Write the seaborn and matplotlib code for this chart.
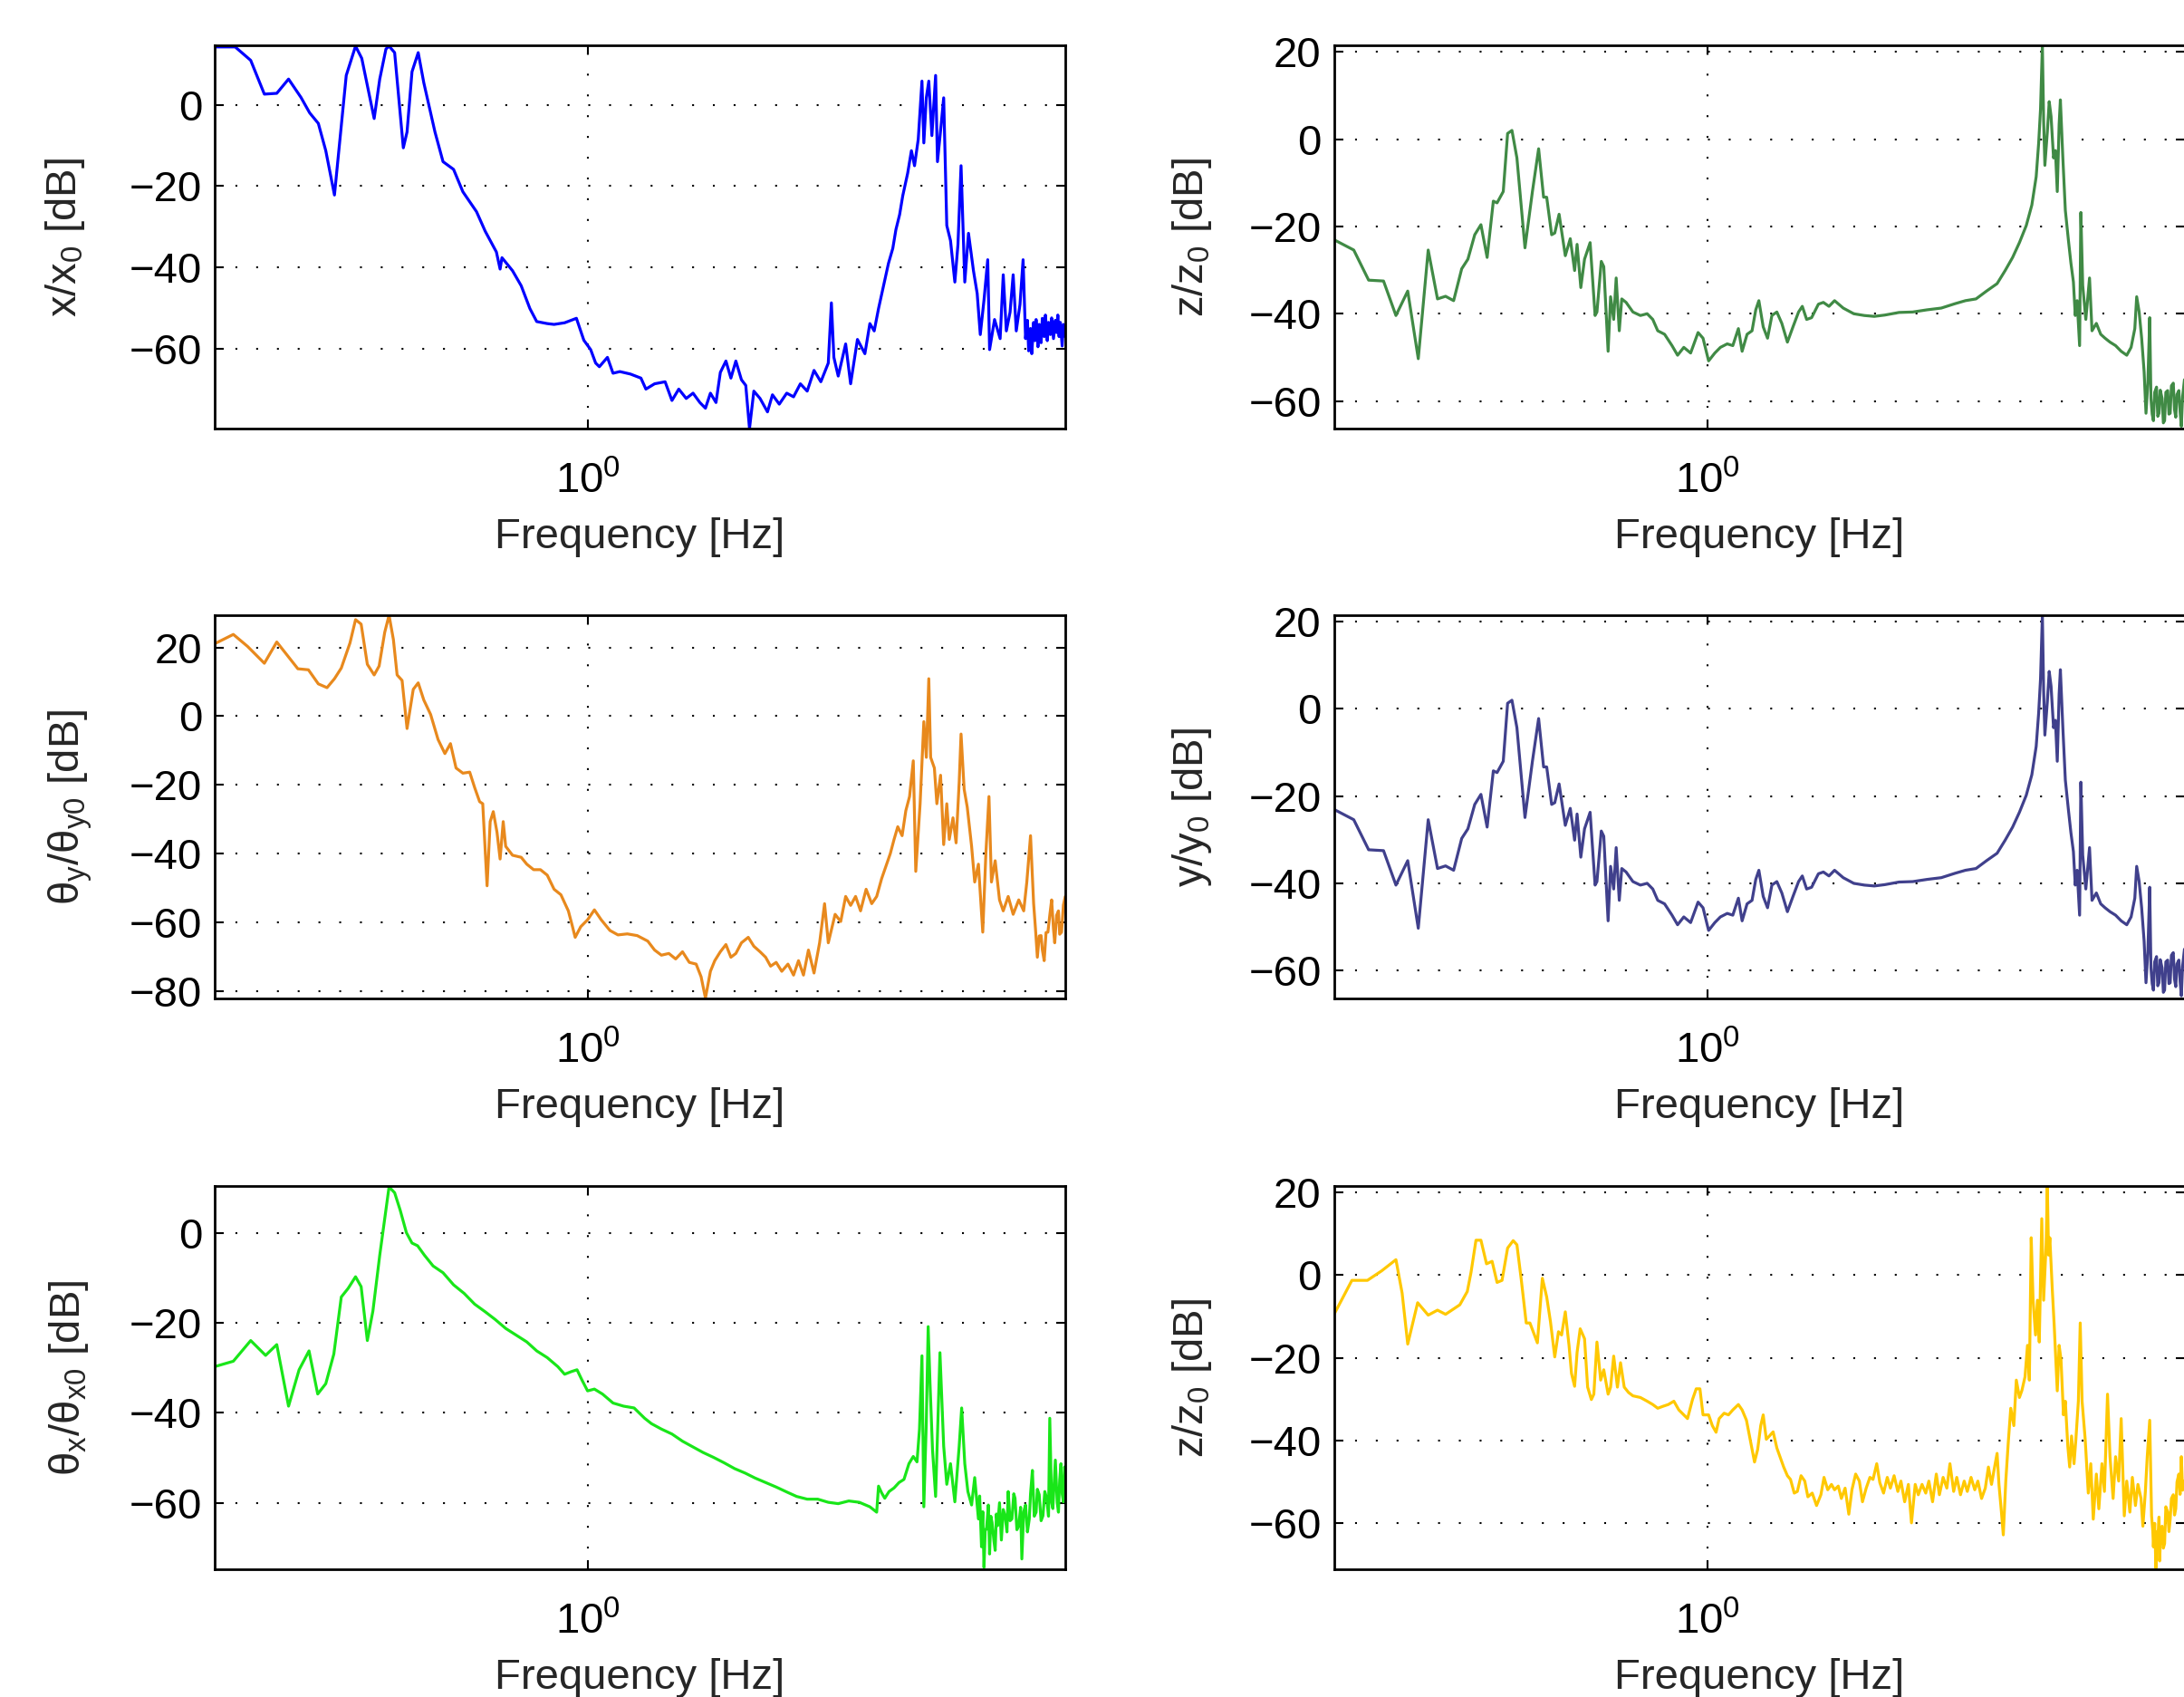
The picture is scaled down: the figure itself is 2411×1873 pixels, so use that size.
import numpy as np
import matplotlib
matplotlib.use("Agg")
import matplotlib.pyplot as plt
import seaborn as sns
from matplotlib.ticker import FixedLocator, NullLocator, MultipleLocator, LogFormatterSciNotation

# frequency axis values are stored as log10(f [Hz]), magnitudes in dB

# x/x0
x_logf = [-0.602, -0.569, -0.544, -0.522, -0.502, -0.483, -0.463, -0.449, -0.435, -0.423,
          -0.409, -0.390, -0.375, -0.365, -0.345, -0.336, -0.326, -0.321, -0.312, -0.298,
          -0.292, -0.284, -0.274, -0.265, -0.247, -0.234, -0.217, -0.202, -0.180, -0.166,
          -0.153, -0.148, -0.142, -0.139, -0.122, -0.108, -0.094, -0.083, -0.066, -0.055,
          -0.038, -0.019, -0.007, 0.004, 0.012, 0.018, 0.031, 0.040, 0.051, 0.068,
          0.085, 0.093, 0.107, 0.124, 0.135, 0.146, 0.158, 0.169, 0.180, 0.189,
          0.197, 0.206, 0.213, 0.222, 0.230, 0.238, 0.247, 0.254, 0.260, 0.267,
          0.277, 0.289, 0.297, 0.308, 0.320, 0.331, 0.342, 0.353, 0.364, 0.375,
          0.387, 0.392, 0.396, 0.403, 0.415, 0.423, 0.434, 0.446, 0.454, 0.461,
          0.468, 0.476, 0.484, 0.491, 0.496, 0.502, 0.507, 0.515, 0.521, 0.526,
          0.532, 0.538, 0.541, 0.545, 0.549, 0.554, 0.560, 0.563, 0.569, 0.573,
          0.578, 0.584, 0.591, 0.596, 0.601, 0.607, 0.613, 0.621, 0.627, 0.632,
          0.638, 0.644, 0.647, 0.655, 0.664, 0.669, 0.674, 0.680, 0.685, 0.690,
          0.696, 0.701,
          0.705, 0.708, 0.710, 0.713, 0.715, 0.718, 0.720, 0.722, 0.725, 0.727,
          0.730, 0.732, 0.735, 0.737, 0.740, 0.742, 0.745, 0.747, 0.750, 0.753,
          0.755, 0.757, 0.759, 0.761, 0.764, 0.766, 0.769]
x_db = [14.2, 14.2, 10.9, 2.6, 2.8, 6.3, 1.8, -2.0, -4.6, -11.3,
        -22.2, 7.2, 14.4, 11.4, -3.4, 6.3, 13.7, 14.4, 12.8, -10.6,
        -6.7, 8.1, 12.8, 5.4, -6.7, -14.0, -15.9, -21.4, -26.3, -31.1,
        -34.8, -36.2, -40.4, -37.6, -40.8, -44.5, -50.1, -53.3, -53.8, -54.0,
        -53.6, -52.5, -57.9, -60.2, -63.5, -64.4, -62.1, -66.0, -65.6, -66.2,
        -67.2, -69.9, -68.6, -68.1, -72.7, -69.9, -72.2, -70.9, -73.2, -74.6,
        -70.9, -73.2, -65.8, -63.0, -67.2, -63.0, -67.6, -69.0, -79.6, -70.4,
        -72.2, -75.5, -71.3, -73.6, -70.9, -71.8, -68.6, -70.4, -65.3, -68.1,
        -63.5, -48.7, -62.1, -66.7, -58.8, -68.6, -57.7, -61.2, -53.8, -55.6,
        -50.1, -44.5, -39.0, -35.3, -30.7, -27.0, -22.4, -16.8, -11.3, -15.0,
        -8.5, 5.8, -9.4, 1.7, 5.8, -7.6, 7.2, -14.0, -4.8, 1.7,
        -29.7, -33.4, -43.6, -34.4, -15.0, -43.6, -31.6, -40.8, -46.4, -56.5,
        -48.0, -38.1, -60.2, -52.8, -57.5, -41.8, -55.6, -51.0, -41.8, -55.6,
        -49.1, -38.1,
        -57.5, -53.0, -60.5, -55.0, -61.2, -53.5, -58.0, -52.8, -59.5, -54.0,
        -58.5, -52.5, -57.0, -51.7, -58.0, -53.5, -56.5, -52.4, -57.5, -53.0,
        -56.0, -51.7, -57.0, -53.5, -59.3, -54.0, -57.0]

# theta_y/theta_y0
ty_logf = [-0.602, -0.572, -0.549, -0.522, -0.502, -0.485, -0.468, -0.451, -0.435, -0.421,
           -0.409, -0.398, -0.384, -0.375, -0.366, -0.356, -0.345, -0.337, -0.328, -0.321,
           -0.314, -0.308, -0.300, -0.292, -0.282, -0.274, -0.265, -0.254, -0.242, -0.231,
           -0.222, -0.213, -0.202, -0.191, -0.183, -0.175, -0.170, -0.163, -0.158, -0.153,
           -0.147, -0.142, -0.137, -0.133, -0.122, -0.108, -0.099, -0.088, -0.077, -0.066,
           -0.055, -0.044, -0.032, -0.026, -0.021, -0.012, -0.001, 0.010, 0.021, 0.035,
           0.048, 0.063, 0.079, 0.096, 0.107, 0.118, 0.130, 0.141, 0.152, 0.163,
           0.174, 0.182, 0.189, 0.197, 0.204, 0.213, 0.222, 0.230, 0.238, 0.247,
           0.258, 0.267, 0.277, 0.286, 0.294, 0.303, 0.312, 0.322, 0.331, 0.339,
           0.347, 0.355, 0.364, 0.373, 0.381, 0.387, 0.398, 0.407, 0.415, 0.423,
           0.431, 0.439, 0.448, 0.457, 0.465, 0.473, 0.479, 0.487, 0.493, 0.499,
           0.506, 0.512, 0.518, 0.524, 0.528, 0.535, 0.541, 0.545, 0.549, 0.552,
           0.558, 0.562, 0.568, 0.573, 0.578, 0.582, 0.588, 0.593, 0.598, 0.601,
           0.606, 0.611, 0.618, 0.623, 0.629, 0.636, 0.641, 0.646, 0.650, 0.656,
           0.663, 0.669, 0.677, 0.685, 0.694, 0.702, 0.707, 0.713,
           0.718, 0.721, 0.724, 0.727, 0.730, 0.732, 0.735, 0.738, 0.741, 0.744,
           0.747, 0.750, 0.752, 0.755, 0.758, 0.760, 0.763, 0.766, 0.769]
ty_db = [21.1, 23.8, 20.3, 15.4, 21.6, 17.7, 13.8, 13.5, 9.4, 8.3,
         10.9, 14.0, 21.3, 28.1, 26.8, 15.1, 12.0, 14.6, 24.4, 29.4,
         22.3, 12.0, 10.4, -3.6, 7.8, 9.7, 4.7, 0.5, -6.8, -10.9,
         -8.0, -15.1, -16.6, -16.3, -20.8, -24.9, -25.5, -49.4, -30.7, -27.8,
         -33.8, -41.6, -30.7, -37.9, -40.5, -41.1, -43.1, -44.7, -44.7, -46.3,
         -50.4, -52.0, -56.7, -60.8, -64.4, -61.3, -59.3, -56.4, -59.3, -62.4,
         -63.7, -63.4, -63.9, -65.5, -68.1, -69.6, -69.1, -70.7, -68.6, -71.7,
         -72.2, -75.9, -82.1, -74.3, -71.2, -68.6, -66.5, -70.2, -69.1, -66.0,
         -64.4, -67.0, -68.6, -70.2, -72.8, -71.7, -74.3, -72.2, -75.4, -71.2,
         -75.4, -68.1, -74.8, -66.0, -54.6, -66.0, -57.7, -59.8, -52.5, -55.1,
         -52.5, -56.7, -50.4, -54.6, -52.5, -47.3, -44.2, -40.0, -35.9, -32.2,
         -34.8, -27.5, -23.4, -13.0, -45.2, -25.5, -1.6, -12.0, 10.9, -12.0,
         -15.1, -25.5, -17.2, -37.4, -25.5, -35.9, -29.6, -36.9, -19.2, -5.2,
         -21.3, -26.5, -37.9, -48.3, -43.1, -62.9, -40.0, -23.4, -48.3, -42.1,
         -53.5, -56.7, -52.5, -57.7, -53.5, -56.7, -48.3, -34.8,
         -54.6, -62.0, -70.2, -64.0, -63.9, -68.0, -71.2, -63.0, -62.9, -58.0,
         -53.5, -62.0, -66.0, -58.0, -56.7, -63.5, -62.9, -55.0, -52.5]

# z/z0 and y/y0 (same measured response)
zy_logf = [-0.601, -0.570, -0.546, -0.522, -0.502, -0.483, -0.466, -0.450, -0.435, -0.422,
           -0.409, -0.396, -0.386, -0.375, -0.365, -0.355, -0.345, -0.339, -0.329, -0.322,
           -0.315, -0.307, -0.294, -0.282, -0.272, -0.264, -0.259, -0.251, -0.246, -0.239,
           -0.229, -0.221, -0.214, -0.210, -0.204, -0.198, -0.189, -0.181, -0.178, -0.171,
           -0.167, -0.160, -0.156, -0.151, -0.147, -0.142, -0.138, -0.131, -0.120, -0.108,
           -0.097, -0.088, -0.080, -0.069, -0.057, -0.048, -0.038, -0.027, -0.015, -0.007,
           0.002, 0.012, 0.021, 0.032, 0.041, 0.050, 0.056, 0.064, 0.072, 0.078,
           0.083, 0.090, 0.097, 0.104, 0.112, 0.120, 0.129, 0.138, 0.147, 0.153,
           0.160, 0.168, 0.179, 0.187, 0.196, 0.205, 0.219, 0.236, 0.253, 0.269,
           0.286, 0.309, 0.331, 0.354, 0.377, 0.399, 0.416, 0.433, 0.450, 0.467,
           0.480, 0.492, 0.503, 0.514, 0.523, 0.530, 0.534, 0.537, 0.540, 0.542,
           0.544, 0.548, 0.551, 0.554, 0.558, 0.561, 0.564, 0.567, 0.569, 0.573,
           0.577, 0.582, 0.586, 0.590, 0.593, 0.596, 0.600, 0.602, 0.605, 0.610,
           0.616, 0.620, 0.627, 0.634, 0.641, 0.649, 0.658, 0.667, 0.676, 0.683,
           0.689, 0.692, 0.696, 0.700, 0.704, 0.707, 0.710, 0.713,
           0.715, 0.717, 0.719, 0.721, 0.724, 0.726, 0.728, 0.730, 0.733, 0.735,
           0.737, 0.739, 0.742, 0.744, 0.746, 0.748, 0.751, 0.753, 0.755, 0.757,
           0.760, 0.762, 0.764, 0.766, 0.769]
zy_db = [-23.1, -25.4, -32.3, -32.5, -40.4, -34.8, -50.3, -25.4, -36.6, -36.0,
         -37.0, -29.7, -27.5, -21.9, -19.6, -27.1, -14.2, -14.6, -12.0, 1.3,
         2.0, -4.3, -24.9, -12.0, -2.2, -13.3, -13.3, -21.9, -21.5, -17.2,
         -26.7, -22.8, -30.1, -24.1, -34.0, -27.5, -23.7, -40.4, -39.6, -28.0,
         -29.2, -48.6, -36.1, -41.3, -31.8, -43.9, -36.6, -37.4, -39.6, -40.4,
         -40.0, -41.3, -43.9, -44.7, -47.3, -49.5, -47.7, -49.0, -44.3, -45.6,
         -50.8, -49.0, -47.7, -46.9, -47.3, -43.4, -48.6, -44.7, -43.9, -39.1,
         -37.0, -43.0, -45.6, -40.4, -39.6, -42.2, -46.5, -43.0, -39.6, -38.3,
         -41.3, -40.9, -37.8, -37.4, -38.3, -37.0, -38.7, -40.0, -40.4, -40.6,
         -40.3, -39.7, -39.6, -39.1, -38.7, -37.7, -37.0, -36.6, -34.8, -33.1,
         -30.1, -27.1, -23.7, -19.8, -15.1, -8.6, -0.9, 6.9, 21.5, 4.3,
         -6.0, 1.7, 8.6, 5.2, -4.3, -2.6, -12.0, 3.4, 9.0, -4.3,
         -16.3, -23.2, -28.4, -32.7, -40.4, -37.0, -47.3, -16.8, -33.5, -41.3,
         -31.8, -43.9, -42.2, -44.7, -45.6, -46.5, -47.3, -48.6, -49.5, -47.7,
         -43.4, -36.1, -39.6, -45.6, -53.3, -62.8, -55.9, -40.9,
         -59.4, -63.0, -64.5, -58.0, -56.8, -63.5, -62.8, -57.5, -59.4, -65.0,
         -64.5, -58.0, -57.6, -63.0, -62.8, -56.5, -55.9, -62.0, -63.7, -58.5,
         -57.6, -62.5, -65.8, -59.0, -55.1]

# theta_x/theta_x0
tx_logf = [-0.602, -0.572, -0.544, -0.520, -0.502, -0.483, -0.466, -0.450, -0.436, -0.423,
           -0.410, -0.398, -0.387, -0.375, -0.366, -0.356, -0.347, -0.336, -0.327, -0.321,
           -0.312, -0.303, -0.293, -0.284, -0.275, -0.264, -0.250, -0.234, -0.217, -0.200,
           -0.183, -0.166, -0.150, -0.133, -0.116, -0.099, -0.083, -0.066, -0.049, -0.038,
           -0.027, -0.018, -0.010, -0.001, 0.010, 0.023, 0.040, 0.057, 0.074, 0.091,
           0.102, 0.118, 0.135, 0.152, 0.169, 0.185, 0.202, 0.219, 0.236, 0.253,
           0.269, 0.286, 0.303, 0.320, 0.336, 0.353, 0.370, 0.387, 0.403, 0.420,
           0.437, 0.454, 0.465, 0.468, 0.473, 0.478, 0.485, 0.493, 0.501, 0.509,
           0.517, 0.524, 0.530, 0.534, 0.538, 0.541, 0.545, 0.548, 0.551, 0.555,
           0.560, 0.563, 0.567, 0.573, 0.578, 0.584, 0.591, 0.598, 0.602, 0.607,
           0.612, 0.618, 0.623,
           0.629, 0.631, 0.634, 0.636, 0.638, 0.640, 0.642, 0.645, 0.647, 0.649,
           0.651, 0.654, 0.656, 0.658, 0.660, 0.663, 0.666, 0.669, 0.672, 0.675,
           0.677, 0.680, 0.683, 0.686, 0.688, 0.691, 0.694, 0.697, 0.699, 0.702,
           0.705, 0.708, 0.711, 0.713, 0.716, 0.719, 0.722, 0.724, 0.727, 0.730,
           0.733, 0.736, 0.739, 0.742, 0.744, 0.747, 0.749, 0.751, 0.753, 0.756,
           0.758, 0.760, 0.762, 0.764, 0.766, 0.768, 0.769]
tx_db = [-29.7, -28.5, -23.9, -27.2, -24.8, -38.5, -30.4, -26.2, -35.8, -33.5,
         -26.9, -14.2, -12.3, -9.7, -11.9, -23.9, -17.3, -4.9, 4.3, 10.3,
         9.0, 5.1, 0.1, -2.2, -2.8, -4.9, -7.3, -8.8, -11.5, -13.4,
         -15.8, -17.5, -19.2, -21.2, -22.7, -24.2, -26.2, -27.7, -29.7, -31.4,
         -30.8, -30.4, -32.7, -35.1, -34.7, -35.8, -37.8, -38.5, -38.9, -41.2,
         -42.4, -43.6, -44.7, -46.3, -47.6, -48.8, -49.9, -51.1, -52.4, -53.4,
         -54.5, -55.5, -56.5, -57.6, -58.6, -59.2, -59.2, -59.9, -60.2, -59.6,
         -59.9, -60.9, -62.1, -56.3, -57.8, -59.0, -57.5, -56.7, -55.5, -54.8,
         -51.3, -49.7, -50.9, -43.6, -27.3, -60.9, -42.1, -20.8, -33.5, -48.2,
         -58.6, -45.1, -26.6, -47.4, -55.9, -51.3, -59.8, -47.4, -38.9, -51.3,
         -57.5, -60.5, -54.4,
         -63.6, -58.5, -69.8, -62.0, -74.4, -66.0, -65.9, -60.5, -71.4, -63.0,
         -64.4, -68.5, -70.6, -62.5, -65.1, -60.0, -68.3, -61.5, -62.9, -66.5,
         -57.5, -64.0, -63.6, -58.0, -59.0, -66.0, -65.1, -61.0, -72.5, -62.0,
         -60.5, -66.5, -63.6, -58.0, -52.8, -63.0, -62.1, -57.0, -58.2, -64.0,
         -62.9, -57.5, -59.0, -63.0, -41.2, -60.0, -61.3, -56.0, -50.5, -60.0,
         -62.1, -55.0, -51.3, -58.0, -59.8, -52.0, -53.6]

# second z/z0 measurement
z2_logf = [-0.601, -0.587, -0.573, -0.548, -0.525, -0.502, -0.492, -0.483, -0.467, -0.450,
           -0.435, -0.422, -0.399, -0.387, -0.381, -0.373, -0.365, -0.356, -0.347, -0.339,
           -0.331, -0.322, -0.313, -0.307, -0.300, -0.292, -0.286, -0.274, -0.266, -0.259,
           -0.253, -0.246, -0.240, -0.235, -0.229, -0.223, -0.219, -0.214, -0.210, -0.205,
           -0.198, -0.193, -0.187, -0.183, -0.178, -0.172, -0.167, -0.160, -0.156, -0.151,
           -0.145, -0.140, -0.134, -0.127, -0.120, -0.108, -0.097, -0.088, -0.080, -0.071,
           -0.063, -0.054, -0.046, -0.038, -0.032, -0.024, -0.018, -0.012, -0.007, 0.002,
           0.008, 0.014, 0.019, 0.027, 0.034, 0.041, 0.050, 0.056, 0.063, 0.070,
           0.076, 0.081, 0.086, 0.090, 0.095, 0.100, 0.106, 0.112, 0.117, 0.123,
           0.129, 0.134, 0.140, 0.145, 0.151, 0.157, 0.162, 0.169, 0.176, 0.183,
           0.188, 0.194, 0.200, 0.205, 0.211, 0.216, 0.222, 0.228, 0.233, 0.239,
           0.245, 0.250, 0.256, 0.262, 0.267, 0.273, 0.278, 0.284, 0.290, 0.295,
           0.301, 0.307, 0.312, 0.318, 0.324, 0.329, 0.335, 0.340, 0.346, 0.352,
           0.357, 0.363, 0.369, 0.374, 0.380, 0.386, 0.391, 0.397, 0.402, 0.408,
           0.414, 0.419, 0.425, 0.431, 0.436, 0.442, 0.448, 0.453, 0.458, 0.462,
           0.467, 0.470, 0.474, 0.477, 0.481, 0.485, 0.489, 0.494, 0.498, 0.503,
           0.507, 0.512, 0.516, 0.519, 0.522, 0.525, 0.529, 0.532, 0.535, 0.539,
           0.542, 0.546, 0.548, 0.550, 0.552, 0.556, 0.559, 0.564, 0.567, 0.570,
           0.574, 0.577, 0.581, 0.584, 0.587, 0.591, 0.594, 0.598, 0.601, 0.604,
           0.609, 0.614, 0.618, 0.622, 0.627, 0.631, 0.636, 0.640, 0.645, 0.649,
           0.654, 0.658, 0.663, 0.667, 0.672, 0.676, 0.681, 0.685, 0.690, 0.694,
           0.699, 0.702, 0.706, 0.709, 0.713,
           0.716, 0.718, 0.719, 0.721, 0.723, 0.725, 0.726, 0.728, 0.729, 0.731,
           0.733, 0.735, 0.737, 0.739, 0.742, 0.744, 0.746, 0.748, 0.751, 0.753,
           0.755, 0.757, 0.760, 0.762, 0.764, 0.766, 0.769]
z2_db = [-9.3, -5.3, -1.3, -1.3, 1.0, 3.7, -4.4, -16.7, -6.7, -9.7,
         -8.5, -9.5, -7.2, -4.0, 0.6, 8.4, 8.4, 2.7, 3.3, -1.8,
         -1.3, 6.5, 8.3, 7.3, -1.1, -11.6, -11.6, -16.4, -0.8, -5.3,
         -11.2, -19.8, -13.7, -14.5, -8.9, -17.0, -23.8, -26.9, -18.7, -13.0,
         -15.4, -27.1, -30.1, -28.8, -16.2, -25.4, -22.9, -28.8, -27.1, -19.6,
         -27.1, -21.2, -27.1, -28.4, -29.2, -29.6, -30.5, -31.3, -32.2, -31.7,
         -31.3, -30.5, -32.6, -33.8, -34.7, -30.1, -27.5, -27.5, -33.8, -33.8,
         -36.4, -38.0, -34.7, -33.4, -33.8, -32.6, -31.3, -32.6, -35.1, -40.5,
         -45.2, -42.2, -36.4, -33.8, -39.7, -38.9, -37.9, -41.8, -43.9, -46.4,
         -48.5, -49.4, -52.7, -52.3, -48.5, -49.8, -53.6, -52.7, -55.7, -53.1,
         -48.9, -51.9, -50.6, -51.9, -51.0, -54.0, -51.5, -57.8, -51.9, -48.1,
         -49.8, -54.8, -51.5, -48.9, -49.4, -45.6, -50.2, -52.7, -48.9, -51.5,
         -48.5, -52.3, -49.8, -54.8, -50.6, -59.9, -50.6, -53.1, -50.6, -52.7,
         -49.8, -54.8, -48.1, -53.1, -48.9, -51.5, -45.6, -52.3, -48.9, -53.1,
         -49.8, -52.3, -48.9, -51.9, -49.8, -54.0, -51.5, -46.4, -50.6, -47.2,
         -43.1, -50.6, -57.3, -62.8, -49.8, -40.5, -32.2, -36.4, -25.4, -29.6,
         -27.9, -24.6, -17.0, -25.4, 9.0, -6.1, -14.5, -6.1, -16.2, 13.6,
         -6.1, 7.3, 21.5, 4.8, 9.0, -3.6, -12.0, -28.0, -17.0, -20.4,
         -33.8, -30.5, -41.4, -46.4, -38.9, -45.6, -39.7, -30.5, -11.6, -30.5,
         -39.7, -52.7, -45.6, -59.0, -48.1, -56.5, -45.6, -52.3, -28.8, -43.9,
         -54.0, -43.9, -49.8, -34.7, -58.2, -49.8, -57.3, -48.9, -55.7, -50.6,
         -54.0, -60.7, -52.3, -43.9, -35.1,
         -58.2, -62.0, -65.7, -60.0, -70.8, -62.0, -64.1, -58.5, -69.1, -61.0,
         -60.7, -66.0, -64.9, -56.0, -57.3, -62.0, -59.0, -54.0, -53.1, -58.0,
         -56.5, -50.0, -48.1, -53.0, -43.9, -52.0, -49.8]

ylabels = ["x/x$_0$ [dB]", "z/z$_0$ [dB]",
           "θ$_y$/θ$_{y0}$ [dB]", "y/y$_0$ [dB]",
           "θ$_x$/θ$_{x0}$ [dB]", "z/z$_0$ [dB]"]

sns.set_theme(style="ticks")
plt.rcParams["font.family"] = ["Liberation Sans", "DejaVu Sans"]
plt.rcParams["mathtext.fontset"] = "custom"
plt.rcParams["mathtext.rm"] = "Liberation Sans"
plt.rcParams["mathtext.it"] = "Liberation Sans"
plt.rcParams["mathtext.default"] = "regular"

W, H = 2411, 1873
fig = plt.figure(figsize=(W / 100, H / 100), dpi=100)

panels = [
    (x_logf, x_db, "#0000ff", (-79.6, 14.6), 0, 0),
    (zy_logf, zy_db, "#408a45", (-66.3, 21.5), 0, 1),
    (ty_logf, ty_db, "#e8891d", (-82.2, 29.4), 1, 0),
    (zy_logf, zy_db, "#40408c", (-66.4, 21.5), 1, 1),
    (tx_logf, tx_db, "#19e619", (-74.8, 10.5), 2, 0),
    (z2_logf, z2_db, "#ffc800", (-71.1, 21.5), 2, 1),
]
lefts = [237, 1472.5]
tops = [50, 679, 1309]
aw, ah = 939, 423
label_x = [-0.150, -0.141, -0.142, -0.141, -0.146, -0.141]

for i, (lf, db, col, ylim, r, c) in enumerate(panels):
    ax = fig.add_axes([lefts[c] / W, 1 - (tops[r] + ah) / H, aw / W, ah / H])
    freq = 10 ** np.array(lf)
    sns.lineplot(x=freq, y=np.array(db), ax=ax, color=col, linewidth=2.3,
                 estimator=None, sort=False, legend=False)
    ax.set_xscale("log")
    ax.set_xlim(0.25, 10 ** 0.769)
    ax.set_ylim(*ylim)
    ax.xaxis.set_major_locator(FixedLocator([1.0]))
    ax.xaxis.set_major_formatter(LogFormatterSciNotation())
    ax.xaxis.set_minor_locator(NullLocator())
    ax.yaxis.set_major_locator(MultipleLocator(20))
    ax.grid(True, which="major", color="black", linestyle=(0, (1, 10)), linewidth=1.5)
    ax.tick_params(axis="both", which="major", direction="in", length=7, width=1.5,
                   top=True, right=True, labelsize=34, colors="black")
    ax.tick_params(axis="y", pad=10)
    ax.tick_params(axis="x", pad=26)
    for sp in ax.spines.values():
        sp.set_color("black")
        sp.set_linewidth(2.0)
    ax.set_xlabel("Frequency [Hz]", fontsize=34, labelpad=12)
    ax.set_ylabel(ylabels[i], fontsize=34)
    ax.yaxis.set_label_coords(label_x[i], 0.5)

fig.savefig("out.png", dpi=100, facecolor="white")
